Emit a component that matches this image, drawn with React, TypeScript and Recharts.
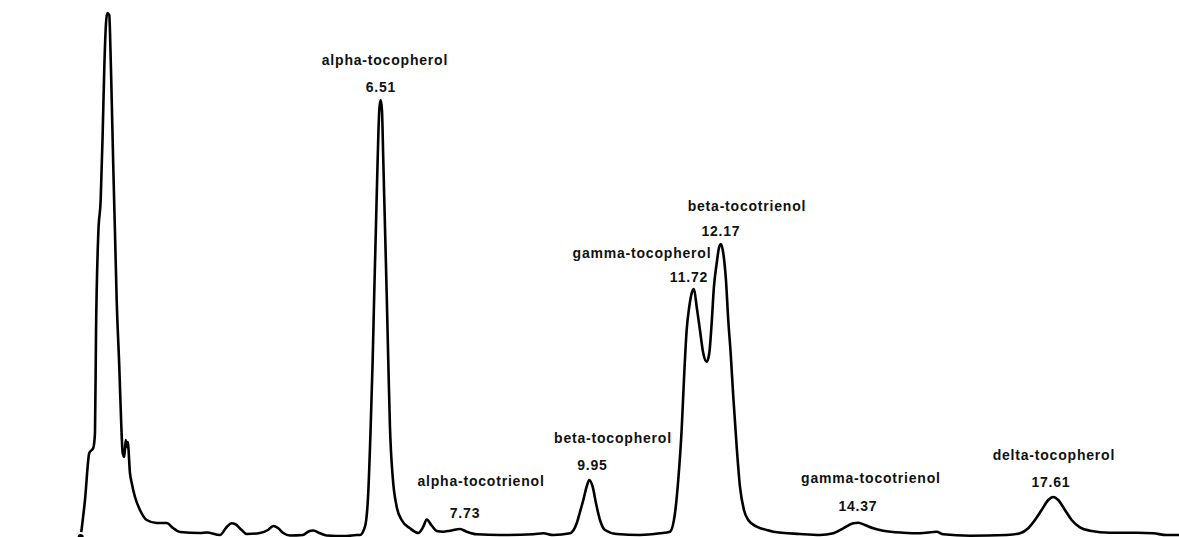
import React from 'react';
import { LineChart, Line, XAxis, YAxis, ReferenceDot } from 'recharts';

// retention time (min) and detector signal
const times = [
  1.581, 1.652, 1.723, 1.789, 1.817, 1.834, 1.872, 1.911, 1.944, 1.971,
  1.999, 2.02, 2.053, 2.065, 2.093, 2.119, 2.147, 2.175, 2.218, 2.246,
  2.274, 2.3, 2.324, 2.34, 2.357, 2.394, 2.423, 2.477, 2.559, 2.67,
  2.835, 3.0, 3.104, 3.219, 3.549, 3.66, 3.879, 3.99, 4.072, 4.127,
  4.237, 4.32, 4.539, 4.671, 4.759, 4.836, 4.923, 5.034, 5.248, 5.331,
  5.418, 5.529, 5.639, 5.969, 6.134, 6.188, 6.271, 6.325, 6.365, 6.398,
  6.424, 6.452, 6.48, 6.507, 6.53, 6.551, 6.573, 6.601, 6.629, 6.655,
  6.683, 6.728, 6.794, 6.876, 7.013, 7.15, 7.233, 7.289, 7.371, 7.454,
  7.563, 7.673, 7.838, 7.949, 8.114, 8.498, 9.048, 9.213, 9.377, 9.653,
  9.764, 9.818, 9.873, 9.928, 9.971, 10.027, 10.082, 10.148, 10.23, 10.423,
  10.808, 11.138, 11.302, 11.385, 11.439, 11.495, 11.533, 11.578, 11.621, 11.66,
  11.698, 11.743, 11.797, 11.852, 11.908, 11.951, 11.99, 12.028, 12.073, 12.116,
  12.144, 12.182, 12.226, 12.264, 12.304, 12.347, 12.403, 12.457, 12.523, 12.594,
  12.733, 12.898, 13.007, 13.447, 13.777, 13.996, 14.161, 14.326, 14.409, 14.519,
  14.657, 14.821, 15.151, 15.426, 15.702, 15.811, 16.251, 16.856, 17.076, 17.213,
  17.324, 17.434, 17.543, 17.626, 17.708, 17.819, 17.929, 18.066, 18.231, 18.561,
  19.001, 19.275, 19.496, 19.7,
];

const signal = [
  -3, 34, 81, 86, 101, 201, 301, 334, 401, 467,
  511, 521, 519, 501, 434, 367, 301, 234, 167, 117,
  81, 77, 94, 87, 92, 61, 51, 37, 24, 14,
  11, 11, 6, 2, 1, 1.5, -1, 7, 10.7, 10,
  4, 0, 1, 4, 8, 6, 1, -1.5, -1, 2.3,
  3.5, 0.7, -1.5, -2, -1, -1, 7.3, 41, 107.3, 174,
  241, 307.3, 374, 424, 434, 424, 374, 307.3, 241, 174,
  107.3, 57.3, 27.3, 14, 5.7, 1, 7.3, 14.5, 8.5, 3,
  2.3, 3.3, 5, 2.3, -0.3, -1, -0.3, 0.7, -1, 0.7,
  10.7, 22, 34, 47.3, 54, 47.3, 30.7, 14, 4, 0,
  -1, 0.7, 2.3, 20.7, 54, 104, 154, 204, 227.3, 240.7,
  245, 227.3, 204, 180.7, 172.3, 180.7, 210.7, 247.3, 270.7, 287.3,
  290, 280.7, 254, 214, 180.7, 137.3, 87.3, 47.3, 24, 14,
  7.3, 4, 2.3, 0, -1, 0.7, 5.7, 10.7, 11.3, 9,
  5.7, 3.3, 1.3, 0.7, 2.3, -0.3, -1.7, -1, 0.7, 5.7,
  14, 24, 34, 37, 34, 24, 14, 6.7, 3.3, 1.3,
  1.3, 0.7, -1, -1,
];

// identified peaks
const peakNames = [
  'alpha-tocopherol', 'alpha-tocotrienol', 'beta-tocopherol', 'gamma-tocopherol',
  'beta-tocotrienol', 'gamma-tocotrienol', 'delta-tocopherol',
];
const peakTimes = [6.51, 7.73, 9.95, 11.72, 12.17, 14.37, 17.61];
const peakHeights = [434, 5, 54, 245, 290, 11, 37];

// label offsets from the peak apex, px: [nameDx, nameDy, timeDx, timeDy]
const labelOffsets = [
  [5.5, -40, 1.5, -13],
  [27.6, -48, 11.6, -16],
  [25, -42, 4.5, -15],
  [-53.3, -36, -6.3, -12],
  [24.4, -38, -1.6, -13],
  [15, -45, 2, -17],
  [1.6, -42, -1.4, -15],
];

const data = times.map((t, i) => ({ t, v: signal[i] }));

const labelStyle: React.CSSProperties = {
  fontFamily: '"Liberation Sans", Arial, sans-serif',
  fontWeight: 700,
  fontSize: 14,
  letterSpacing: 0.8,
};

const PeakLabel = (idx: number) => (props: any) => {
  const { cx, cy } = props;
  const [ndx, ndy, tdx, tdy] = labelOffsets[idx];
  return (
    <g>
      <text x={cx + ndx} y={cy + ndy} textAnchor="middle" dominantBaseline="central" fill="#111" style={labelStyle}>
        {peakNames[idx]}
      </text>
      <text x={cx + tdx} y={cy + tdy} textAnchor="middle" dominantBaseline="central" fill="#111" style={labelStyle}>
        {peakTimes[idx].toFixed(2)}
      </text>
    </g>
  );
};

export default function App() {
  return (
    <div style={{ position: 'absolute', left: 0, top: 0, width: 1179, height: 537, background: '#fff' }}>
      <LineChart width={1179} height={537} data={data} margin={{ top: 0, right: 0, bottom: 0, left: 0 }}>
        <XAxis type="number" dataKey="t" domain={[0.25, 19.7]} allowDataOverflow hide />
        <YAxis type="number" domain={[-3, 534]} allowDataOverflow hide />
        <Line
          type="monotone"
          dataKey="v"
          stroke="#000"
          strokeWidth={2.6}
          dot={false}
          isAnimationActive={false}
        />
        {peakTimes.map((rt, i) => (
          <ReferenceDot
            key={peakNames[i]}
            x={rt}
            y={peakHeights[i]}
            r={1}
            ifOverflow="visible"
            shape={PeakLabel(i)}
          />
        ))}
      </LineChart>
    </div>
  );
}
